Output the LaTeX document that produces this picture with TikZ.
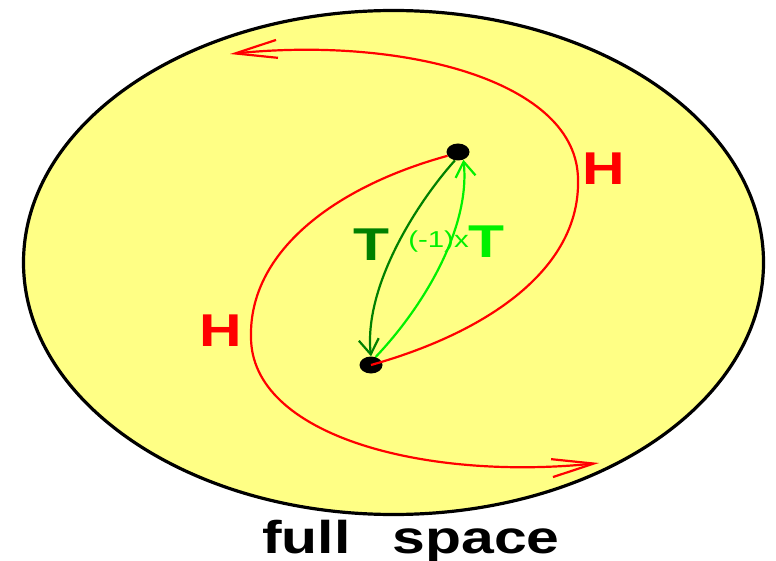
\documentclass[tikz,border=0pt]{standalone}
\usepackage{fontspec}
\setmainfont{Liberation Sans}
\usetikzlibrary{arrows.meta,shapes.geometric,bending}
\definecolor{fillyellow}{RGB}{255,255,133}
\definecolor{hred}{RGB}{255,0,0}
\definecolor{tdark}{RGB}{0,128,0}
\definecolor{tlight}{RGB}{0,240,0}
\newcommand{\widetxt}[1]{\scalebox{1.28}[1]{#1}}
\begin{document}
\begin{tikzpicture}[x=1pt,y=-1pt,
  lbl/.style={font=\bfseries\fontsize{46}{46}\selectfont, inner sep=0pt, anchor=base},
  smalllbl/.style={font=\fontsize{23}{23}\selectfont, inner sep=0pt, anchor=base},
  dot/.style={ellipse, fill=black, minimum width=23pt, minimum height=17pt, inner sep=0pt},
  hpath/.style={draw=hred, line width=2.2pt, -{Straight Barb[length=42pt,width=18pt,flex]}},
  tpath/.style={line width=2.2pt, -{Straight Barb[length=15pt,width=20pt,flex]}}]
\useasboundingbox (0,0) rectangle (776,561);
\node[ellipse, draw=black, fill=fillyellow, line width=3.2pt, minimum width=740pt, minimum height=504pt, inner sep=0pt] (space) at (393.5,262.5) {};
\node[dot] (p) at (458,152) {};
\node[dot] (q) at (371,365) {};
\coordinate (a1) at (230,54);
\coordinate (a2) at (599,463);
\draw[hpath] (q.center) .. controls (495,330) and (580,265) .. (578,180) .. controls (578,80) and (400,35) .. (a1);
\draw[hpath] (p.200) .. controls (334,187) and (249,252) .. (251,337) .. controls (251,437) and (429,482) .. (a2);
\draw[tpath, tdark] (p.250) .. controls (415,205) and (362,290) .. (q.north);
\draw[tpath, tlight] (q.60) .. controls (425,305) and (472,225) .. (p.-55);
\node[lbl, text=hred] (h1) at (604,185) {\widetxt{H}};
\node[lbl, text=hred] (h2) at (221,346) {\widetxt{H}};
\node[lbl, text=tdark] (t1) at (371,261) {\widetxt{T}};
\node[lbl, text=tlight] (t2) at (486,258) {\widetxt{T}};
\node[smalllbl, text=tlight] (m) at (438.5,248) {\widetxt{(-1)x}};
\node[lbl, text=black] (fs) at (411,553) {\widetxt{full\hspace{33pt}space}};
\end{tikzpicture}
\end{document}
